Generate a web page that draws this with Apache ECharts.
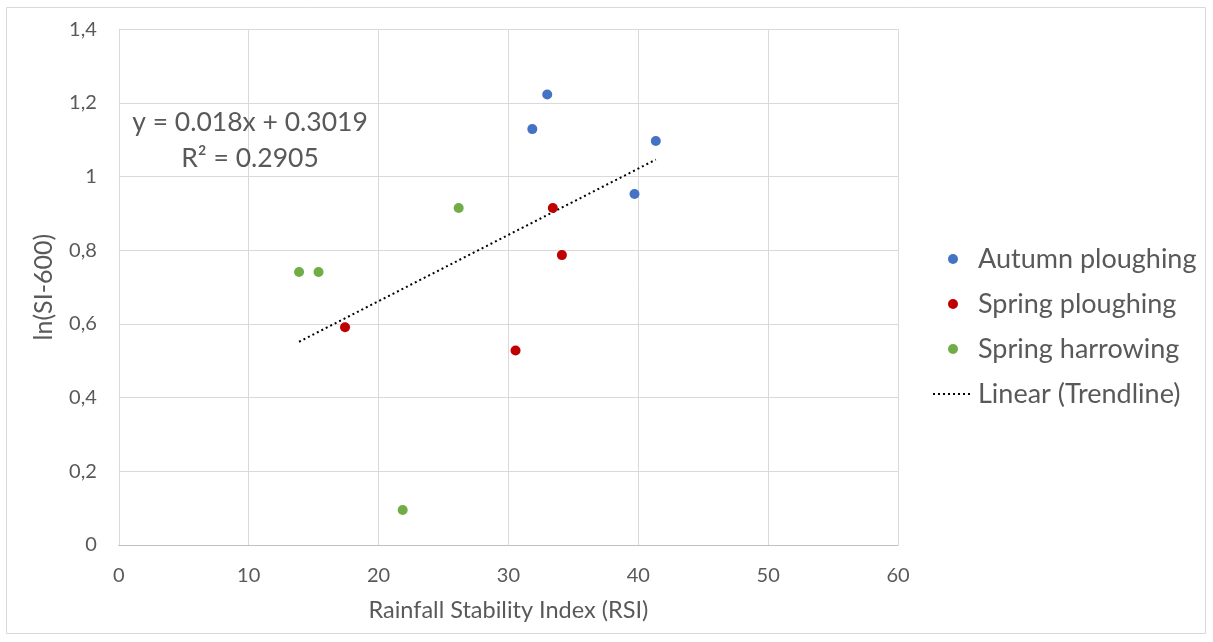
<!DOCTYPE html>
<html><head><meta charset="utf-8">
<script src="https://cdn.jsdelivr.net/npm/echarts@6/dist/echarts.min.js"></script>
<style>html,body{margin:0;padding:0;background:#fff}#c{width:1213px;height:642px}</style>
</head><body><div id="c"></div>
<script>
const autumnPloughing = [[32.99,1.223],[31.84,1.129],[41.35,1.097],[39.71,0.953]];
const springPloughing = [[33.42,0.915],[34.12,0.787],[17.42,0.591],[30.55,0.528]];
const springHarrowing = [[26.17,0.915],[13.88,0.741],[15.38,0.741],[21.86,0.095]];
const trendSlope = 0.018, trendIntercept = 0.3019, trendR2 = 0.2905;
const seriesNames = ['Autumn ploughing','Spring ploughing','Spring harrowing','Linear (Trendline)'];
const xTicks = [0,10,20,30,40,50,60];
const yTicks = [0,0.2,0.4,0.6,0.8,1,1.2,1.4];

const allX = autumnPloughing.concat(springPloughing, springHarrowing).map(p => p[0]);
const xMin = Math.min(...allX), xMax = Math.max(...allX);
const trend = [[xMin, trendSlope*xMin+trendIntercept],[xMax, trendSlope*xMax+trendIntercept]];

const font = 'Lato, "Open Sans", sans-serif';
const txt = '#595959';
const chart = echarts.init(document.getElementById('c'));
chart.setOption({
  animation:false,
  textStyle:{fontFamily:font},
  grid:{left:118.8,right:315,top:29.3,bottom:97},
  graphic:[
    {type:'rect',shape:{x:6.5,y:7.5,width:1199,height:626},style:{fill:'none',stroke:'#d9d9d9',lineWidth:1},silent:true},
    {type:'text',style:{text:'y = ' + trendSlope + 'x + ' + trendIntercept,x:250,y:122,textAlign:'center',textVerticalAlign:'middle',font:'26.5px '+font,fill:txt},z:10},
    {type:'text',style:{text:'R² = ' + trendR2,x:250,y:158,textAlign:'center',textVerticalAlign:'middle',font:'26.5px '+font,fill:txt},z:10}
  ],
  legend:{
    orient:'vertical',left:927,top:239,itemWidth:40,itemHeight:10,itemGap:15,
    textStyle:{fontSize:27,color:txt,fontFamily:font,lineHeight:30},
    data:[{name:seriesNames[0],icon:'circle'},{name:seriesNames[1],icon:'circle'},{name:seriesNames[2],icon:'circle'},
      {name:seriesNames[3],itemStyle:{color:'rgba(0,0,0,0)',borderColor:'rgba(0,0,0,0)',borderWidth:0}}]
  },
  xAxis:{type:'value',min:0,max:60,interval:10,
    name:'Rainfall Stability Index (RSI)',nameLocation:'middle',nameGap:53,
    nameTextStyle:{fontSize:23.5,color:txt,fontFamily:font},
    axisLine:{lineStyle:{color:'#bfbfbf'}},axisTick:{show:false},
    axisLabel:{fontSize:20,color:txt,margin:21},
    splitLine:{lineStyle:{color:'#d9d9d9'}}},
  yAxis:{type:'value',min:0,max:1.4,interval:0.2,
    name:'ln(SI-600)',nameLocation:'middle',nameGap:62,nameRotate:90,
    nameTextStyle:{fontSize:25,color:txt,fontFamily:font},
    axisLine:{show:true,lineStyle:{color:'#d9d9d9'}},axisTick:{show:false},
    axisLabel:{fontSize:20,color:txt,margin:22,formatter:v=>String(+v.toFixed(1)).replace('.',',')},
    splitLine:{lineStyle:{color:'#d9d9d9'}}},
  series:[
    {name:seriesNames[0],type:'scatter',data:autumnPloughing,symbolSize:10,itemStyle:{color:'#4472c4',opacity:1}},
    {name:seriesNames[1],type:'scatter',data:springPloughing,symbolSize:10,itemStyle:{color:'#c00000',opacity:1}},
    {name:seriesNames[2],type:'scatter',data:springHarrowing,symbolSize:10,itemStyle:{color:'#70ad47',opacity:1}},
    {name:seriesNames[3],type:'line',data:trend,symbol:'none',z:1,lineStyle:{color:'#000',width:2,type:[2,3]},itemStyle:{color:'#000'}}
  ]
});
</script></body></html>
